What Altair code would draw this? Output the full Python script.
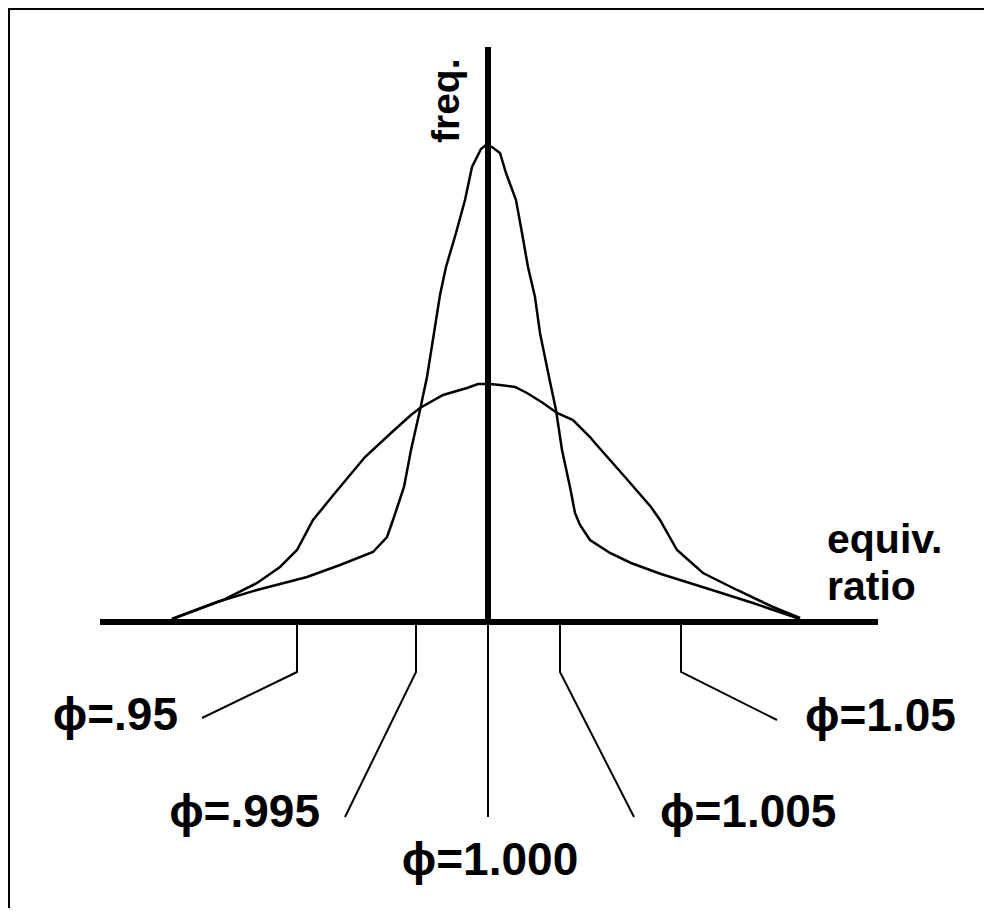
import altair as alt
import pandas as pd

# Schematic units: x = position along the equivalence-ratio axis (phi = 1.000 at 0),
# y = frequency (baseline at 0)
narrow_x = [-3.16, -2.71, -2.31, -1.81, -1.48, -1.15, -1.01, -0.95, -0.90, -0.84, -0.77,
            -0.68, -0.61, -0.54, -0.48, -0.42, -0.32, -0.23, -0.16, -0.07, -0.02, 0.04,
            0.12, 0.18, 0.28, 0.34, 0.40, 0.47, 0.52, 0.61, 0.68, 0.74, 0.82, 0.87, 0.92,
            1.02, 1.22, 1.43, 1.73, 2.24, 2.65, 3.12]
narrow_y = [0.03, 0.20, 0.32, 0.45, 0.57, 0.70, 0.85, 1.02, 1.17, 1.35, 1.72,
            2.12, 2.45, 2.89, 3.27, 3.55, 3.89, 4.22, 4.55, 4.73, 4.77, 4.75,
            4.69, 4.49, 4.22, 3.89, 3.55, 3.25, 2.89, 2.45, 2.12, 1.72, 1.35, 1.09, 0.97,
            0.82, 0.69, 0.59, 0.48, 0.32, 0.19, 0.03]

broad_x = [-3.16, -2.65, -2.31, -2.08, -1.91, -1.75, -1.53, -1.23, -0.97, -0.77, -0.68,
           -0.45, -0.21, -0.10, 0.02, 0.12, 0.27, 0.39, 0.55, 0.69, 0.85, 1.02, 1.07,
           1.37, 1.63, 1.72, 1.89, 2.15, 2.49, 2.85, 3.12]
broad_y = [0.03, 0.22, 0.39, 0.55, 0.72, 1.02, 1.29, 1.65, 1.89, 2.07, 2.14,
           2.27, 2.34, 2.38, 2.38, 2.37, 2.35, 2.29, 2.19, 2.09, 2.02, 1.85, 1.79,
           1.45, 1.15, 1.02, 0.72, 0.49, 0.32, 0.15, 0.04]

tick_labels = ["ϕ=.95", "ϕ=.995", "ϕ=1.000", "ϕ=1.005", "ϕ=1.05"]
tick_pos = [-1.91, -0.72, 0.0, 0.72, 1.93]
leader_end_x = [-2.86, -1.43, 0.0, 1.46, 2.89]
leader_end_y = [-0.96, -1.95, -1.95, -1.95, -0.98]
label_x = [-3.10, -1.68, 0.02, 1.72, 3.17]
label_y = [-0.94, -1.91, -2.39, -1.91, -0.95]
label_side = ["right", "right", "center", "left", "left"]

axis_x_range = [-3.88, 3.90]
axis_y_top = 5.75
bend_y = -0.50

X_DOM = [-4.8, 4.96]
Y_DOM = [-2.86, 6.14]

xs = alt.Scale(domain=X_DOM, nice=False, zero=False)
ys = alt.Scale(domain=Y_DOM, nice=False, zero=False)


def X(f="x"):
    return alt.X(f"{f}:Q", scale=xs, axis=None)


def Y(f="y"):
    return alt.Y(f"{f}:Q", scale=ys, axis=None)


curves = pd.DataFrame(
    [{"x": a, "y": b, "curve": "narrow", "i": k} for k, (a, b) in enumerate(zip(narrow_x, narrow_y))]
    + [{"x": a, "y": b, "curve": "broad", "i": k} for k, (a, b) in enumerate(zip(broad_x, broad_y))]
)

leaders_rows = []
for j, lab in enumerate(tick_labels):
    leaders_rows.append({"x": tick_pos[j], "y": 0.0, "g": lab, "o": 0})
    leaders_rows.append({"x": tick_pos[j], "y": bend_y, "g": lab, "o": 1})
    leaders_rows.append({"x": leader_end_x[j], "y": leader_end_y[j], "g": lab, "o": 2})
leaders = pd.DataFrame(leaders_rows)

labels = pd.DataFrame({"x": label_x, "y": label_y, "t": tick_labels, "side": label_side})

curve_layer = alt.Chart(curves).mark_line(color="black", strokeWidth=2.5, interpolate="linear").encode(
    x=X(), y=Y(), detail="curve:N", order="i:Q"
)

leader_layer = alt.Chart(leaders).mark_line(color="black", strokeWidth=2).encode(
    x=X(), y=Y(), detail="g:N", order="o:Q"
)

axes_df = pd.DataFrame({
    "x": [axis_x_range[0], 0.0], "x2": [axis_x_range[1], 0.0],
    "y": [0.0, 0.0], "y2": [0.0, axis_y_top],
})
axes_layer = alt.Chart(axes_df).mark_rule(color="black", strokeWidth=6).encode(
    x=X(), x2="x2:Q", y=Y(), y2="y2:Q"
)

frame_df = pd.DataFrame({
    "x": [X_DOM[0], X_DOM[0]], "x2": [X_DOM[1], X_DOM[0]],
    "y": [Y_DOM[1], Y_DOM[0]], "y2": [Y_DOM[1], Y_DOM[1]],
})
frame_layer = alt.Chart(frame_df).mark_rule(color="black", strokeWidth=4).encode(
    x=X(), x2="x2:Q", y=Y(), y2="y2:Q"
)

text_layers = []
for side in ["left", "center", "right"]:
    text_layers.append(
        alt.Chart(labels).transform_filter(alt.datum.side == side)
        .mark_text(align=side, baseline="middle", font="Liberation Sans", fontWeight="bold",
                   fontSize=46, color="black")
        .encode(x=X(), y=Y(), text="t:N")
    )

freq_df = pd.DataFrame({"x": [-0.29], "y": [4.79], "t": ["freq."]})
freq_layer = alt.Chart(freq_df).mark_text(
    align="left", baseline="alphabetic", angle=270, font="Liberation Sans",
    fontWeight="bold", fontSize=39, color="black"
).encode(x=X(), y=Y(), text="t:N")

eq_df = pd.DataFrame({"x": [3.39], "y": [0.69], "t": ["equiv.\nratio"]})
eq_layer = alt.Chart(eq_df).mark_text(
    align="left", baseline="alphabetic", font="Liberation Sans", fontWeight="bold",
    fontSize=41, lineBreak="\n", lineHeight=47, color="black"
).encode(x=X(), y=Y(), text="t:N")

chart = alt.layer(
    frame_layer, curve_layer, leader_layer, axes_layer, *text_layers, freq_layer, eq_layer
).properties(
    width=976, height=900, padding=0,
    autosize=alt.AutoSizeParams(type="none"),
    background="white",
).configure_view(stroke=None)

chart.save("out.html", embed_options={"renderer": "svg", "actions": False})
